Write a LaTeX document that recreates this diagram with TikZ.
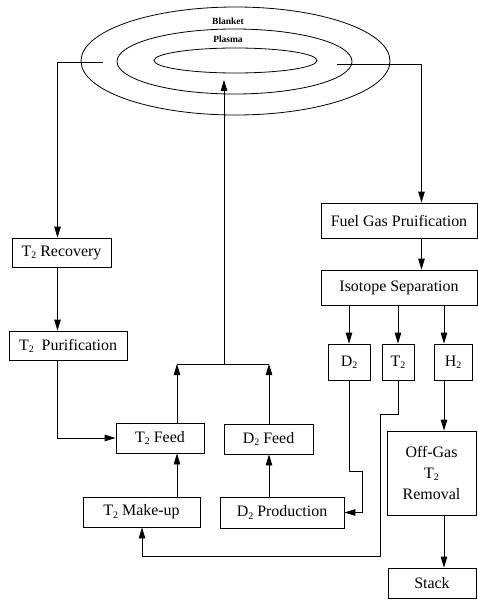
\documentclass[tikz,border=0pt]{standalone}
\usepackage{fontspec}
\setmainfont{Liberation Serif}
\usetikzlibrary{arrows.meta}
\newcommand{\ssub}[1]{\raisebox{-0.3ex}{\fontsize{10}{10}\selectfont #1}}
\begin{document}
\begin{tikzpicture}[x=1bp,y=-1bp,
  ln/.style={line width=0.8bp},
  arr/.style={ln,-{Triangle[length=11bp,width=6.5bp]}},
  box/.style={draw,line width=0.8bp,inner sep=0pt,font=\fontsize{16}{18}\selectfont,align=center},
  lbl/.style={font=\fontsize{9.5}{10}\selectfont\bfseries,inner sep=0pt}]
\useasboundingbox (0,0) rectangle (478,600);
\fill[white] (0,0) rectangle (478,600);
% torus
\draw[ln] (235.5,61) ellipse [x radius=154.5bp, y radius=54bp];
\draw[ln] (234.5,61.5) ellipse [x radius=117.5bp, y radius=32.5bp];
\draw[ln] (235.5,60.5) ellipse [x radius=81.5bp, y radius=12.5bp];
\node[lbl] (blanket) at (228,21) {Blanket};
\node[lbl] (plasma) at (228,39) {Plasma};
% boxes
\node[box,minimum width=99bp,minimum height=29bp] (rec) at (61.5,252.5) {T\ssub{2} Recovery};
\node[box,minimum width=118bp,minimum height=29bp] (pur) at (68,345.5) {T\ssub{2}\ \ Purification};
\node[box,minimum width=88bp,minimum height=30bp] (t2feed) at (160,438) {T\ssub{2} Feed};
\node[box,minimum width=89bp,minimum height=30bp] (d2feed) at (268.5,439) {D\ssub{2} Feed};
\node[box,minimum width=117bp,minimum height=30bp] (makeup) at (141.5,512) {T\ssub{2} Make-up};
\node[box,minimum width=124bp,minimum height=31bp] (d2prod) at (282,512.5) {D\ssub{2} Production};
\node[box,minimum width=156bp,minimum height=35bp] (fuel) at (399,220.5) {Fuel Gas Pruification};
\node[box,minimum width=156bp,minimum height=35bp] (iso) at (399,287.5) {Isotope Separation};
\node[box,minimum width=42bp,minimum height=36bp] (d2) at (349,362) {D\ssub{2}};
\node[box,minimum width=32bp,minimum height=36bp] (t2) at (398,362) {T\ssub{2}};
\node[box,minimum width=38bp,minimum height=36bp] (h2) at (453,362) {H\ssub{2}};
\node[box,minimum width=89bp,minimum height=84bp,font=\fontsize{16}{21}\selectfont] (offgas) at (431.5,473) {Off-Gas\\T\ssub{2}\\Removal};
\node[box,minimum width=88bp,minimum height=30bp] (stack) at (432,583) {Stack};
% helper coordinates
\coordinate (pl) at (103,62);
\coordinate (pr) at (337,64);
\coordinate (cL) at (57.5,0);
\coordinate (cT) at (177,0);
\coordinate (cC) at (224,0);
\coordinate (cD) at (269,0);
\coordinate (cR) at (421.5,0);
\coordinate (cH) at (444,0);
\coordinate (jy) at (0,364);
\coordinate (top) at (224,80);
\coordinate (bD) at (362,471);
\coordinate (bT1) at (380,414);
\coordinate (bT2) at (142,556);
% connectors
\draw[arr] (pl) -| (rec.north -| cL);
\draw[arr] (pr) -| (fuel.north -| cR);
\draw[arr] (rec.south -| cL) -- (pur.north -| cL);
\draw[arr] (pur.south -| cL) |- (t2feed.west);
\draw[arr] (t2feed.north -| cT) -- (jy -| cT);
\draw[arr] (d2feed.north -| cD) -- (jy -| cD);
\draw[ln] (jy -| cT) -- (jy -| cD);
\draw[arr] (jy -| cC) -- (top);
\draw[arr] (makeup.north -| cT) -- (t2feed.south -| cT);
\draw[arr] (d2prod.north -| cD) -- (d2feed.south -| cD);
\draw[arr] (fuel.south -| cR) -- (iso.north -| cR);
\draw[arr] (iso.south -| d2) -- (d2.north);
\draw[arr] (iso.south -| t2) -- (t2.north);
\draw[arr] (iso.south -| cH) -- (h2.north -| cH);
\draw[arr] (d2.south) |- (bD) |- (d2prod.east);
\draw[arr] (t2.south) |- (bT1) |- (bT2) -- (makeup.south -| bT2);
\draw[arr] (h2.south -| cH) -- (offgas.north -| cH);
\draw[arr] (offgas.south -| cH) -- (stack.north -| cH);
\end{tikzpicture}
\end{document}
